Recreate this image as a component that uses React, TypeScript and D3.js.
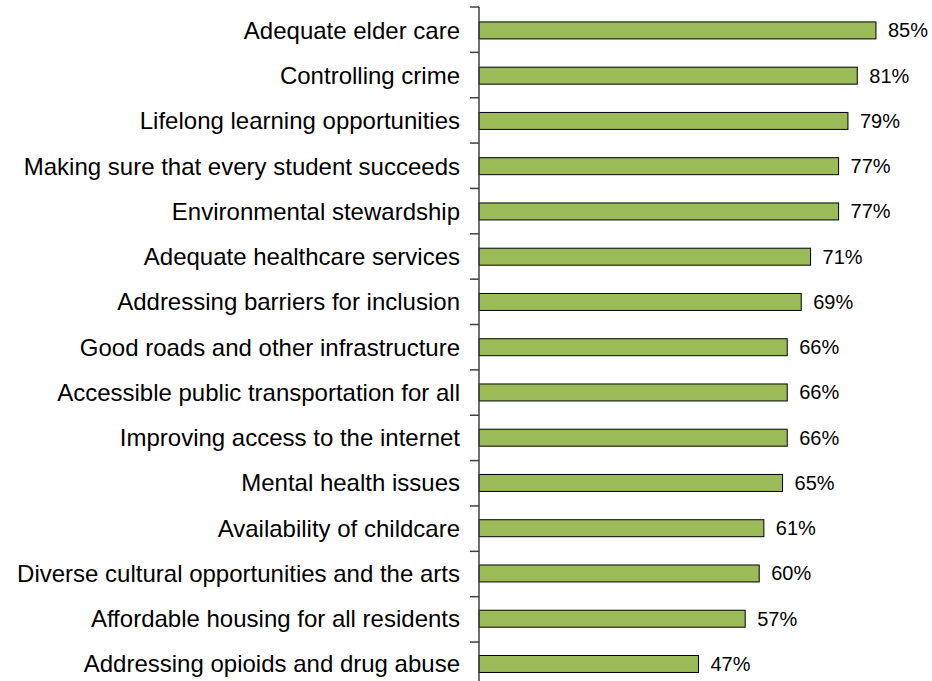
import { useEffect, useRef } from 'react'
import * as d3 from 'd3'

const categories = [
  'Adequate elder care',
  'Controlling crime',
  'Lifelong learning opportunities',
  'Making sure that every student succeeds',
  'Environmental stewardship',
  'Adequate healthcare services',
  'Addressing barriers for inclusion',
  'Good roads and other infrastructure',
  'Accessible public transportation for all',
  'Improving access to the internet',
  'Mental health issues',
  'Availability of childcare',
  'Diverse cultural opportunities and the arts',
  'Affordable housing for all residents',
  'Addressing opioids and drug abuse',
]

const values = [0.85, 0.81, 0.79, 0.77, 0.77, 0.71, 0.69, 0.66, 0.66, 0.66, 0.65, 0.61, 0.6, 0.57, 0.47]

const width = 932
const height = 681

export default function App() {
  const svgRef = useRef<SVGSVGElement>(null)

  useEffect(() => {
    if (!svgRef.current) return
    const svg = d3.select(svgRef.current)
    svg.selectAll('*').remove()

    const axisX = 479
    const top = 7
    const step = 45.36
    const data = categories.map((c, i) => ({ label: c, value: values[i] }))

    const x = d3.scaleLinear().domain([0, 1]).range([axisX, axisX + 467])
    const y = d3
      .scaleBand<string>()
      .domain(categories)
      .range([top, top + step * categories.length])
      .paddingInner(0.625)
      .paddingOuter(0.33)

    const font = 'Liberation Sans, Arial, sans-serif'

    // bars
    svg
      .selectAll('.bar')
      .data(data)
      .enter()
      .append('rect')
      .attr('x', x(0))
      .attr('y', (d) => y(d.label)!)
      .attr('width', (d) => x(d.value) - x(0))
      .attr('height', y.bandwidth())
      .style('fill', '#9BBB59')
      .style('stroke', '#000')
      .style('stroke-width', '1px')

    // axis line + ticks between categories
    svg
      .append('line')
      .attr('x1', axisX)
      .attr('x2', axisX)
      .attr('y1', top)
      .attr('y2', top + step * categories.length)
      .style('stroke', '#404040')
      .style('stroke-width', '1.5px')

    d3.range(categories.length + 1).forEach((i) => {
      svg
        .append('line')
        .attr('x1', axisX - 9)
        .attr('x2', axisX)
        .attr('y1', top + step * i)
        .attr('y2', top + step * i)
        .style('stroke', '#404040')
        .style('stroke-width', '1.5px')
    })

    // category labels
    svg
      .selectAll('.cat')
      .data(data)
      .enter()
      .append('text')
      .attr('x', 460)
      .attr('y', (d) => y(d.label)! + y.bandwidth() / 2)
      .attr('dy', '0.35em')
      .attr('text-anchor', 'end')
      .style('font-family', font)
      .style('font-size', '24px')
      .style('fill', '#000')
      .text((d) => d.label)

    // value labels
    svg
      .selectAll('.val')
      .data(data)
      .enter()
      .append('text')
      .attr('x', (d) => x(d.value) + 12)
      .attr('y', (d) => y(d.label)! + y.bandwidth() / 2)
      .attr('dy', '0.35em')
      .style('font-family', font)
      .style('font-size', '20px')
      .style('fill', '#000')
      .text((d) => `${Math.round(d.value * 100)}%`)
  }, [])

  return (
    <svg
      ref={svgRef}
      width={width}
      height={height}
      style={{ position: 'absolute', left: 0, top: 0, background: '#fff' }}
    />
  )
}
